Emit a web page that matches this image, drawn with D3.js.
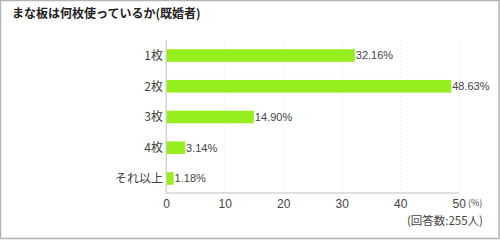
<!DOCTYPE html>
<html lang="ja">
<head>
  <meta charset="UTF-8" />
  <title>まな板は何枚使っているか</title>
  <script src="https://d3js.org/d3.v7.min.js"></script>
  <style>
    body { margin: 0; background: #fff; font-family: "Noto Sans CJK JP", sans-serif; }
    svg text { fill: #333; }
  </style>
</head>
<body>
  <svg id="chart" width="500" height="240"></svg>
  <script>
    const categories = ["1枚", "2枚", "3枚", "4枚", "それ以上"];
    const values = [32.16, 48.63, 14.90, 3.14, 1.18];
    const ticks = [0, 10, 20, 30, 40, 50];

    const svg = d3.select("#chart");

    // frame
    svg.append("rect")
      .attr("x", 0.5).attr("y", 0.5)
      .attr("width", 498.5).attr("height", 238)
      .attr("fill", "#fff").attr("stroke", "#b4b4b4").attr("stroke-width", 1.5);

    svg.append("text")
      .attr("x", 12).attr("y", 18)
      .attr("font-size", 12).attr("font-weight", "bold")
      .style("fill", "#222")
      .text("まな板は何枚使っているか(既婚者)");

    const x = d3.scaleLinear().domain([0, 50]).range([166.7, 459.2]);
    const y = d3.scaleBand().domain(categories).range([40, 194]).paddingInner(0.59).paddingOuter(0.3);

    // dotted grid
    svg.append("g").selectAll("line")
      .data(ticks.slice(1))
      .join("line")
      .attr("x1", d => x(d)).attr("x2", d => x(d))
      .attr("y1", 40).attr("y2", 192)
      .attr("stroke", "#ddd").attr("stroke-dasharray", "1,3");

    // axes lines
    svg.append("line")
      .attr("x1", x(0) - 0.5).attr("x2", x(0) - 0.5)
      .attr("y1", 40).attr("y2", 193)
      .attr("stroke", "#bbb").attr("stroke-width", 1);
    svg.append("line")
      .attr("x1", x(0) - 1).attr("x2", x(50))
      .attr("y1", 193).attr("y2", 193)
      .attr("stroke", "#e0e0e0").attr("stroke-width", 2);

    // bars
    svg.append("g").selectAll("rect")
      .data(values)
      .join("rect")
      .attr("x", x(0))
      .attr("y", (d, i) => y(categories[i]))
      .attr("width", d => x(d) - x(0))
      .attr("height", y.bandwidth())
      .attr("fill", "#96ee1e");

    // value labels
    svg.append("g").selectAll("text")
      .data(values)
      .join("text")
      .attr("x", d => x(d) + 1)
      .attr("y", (d, i) => y(categories[i]) + y.bandwidth() / 2)
      .attr("dy", "0.36em")
      .attr("font-size", 11)
      .attr("font-family", "Liberation Sans, sans-serif")
      .style("fill", "#444")
      .text(d => d.toFixed(2) + "%");

    // category labels
    svg.append("g").selectAll("text")
      .data(categories)
      .join("text")
      .attr("x", 163)
      .attr("y", d => y(d) + y.bandwidth() / 2)
      .attr("dy", "0.36em")
      .attr("text-anchor", "end")
      .attr("font-size", 12)
      .style("fill", "#444")
      .text(d => d);

    // tick labels
    svg.append("g").selectAll("text")
      .data(ticks)
      .join("text")
      .attr("x", d => x(d))
      .attr("y", 208)
      .attr("text-anchor", "middle")
      .attr("font-size", 12)
      .attr("font-family", "Liberation Sans, sans-serif")
      .style("fill", "#444")
      .text(d => d);

    svg.append("text")
      .attr("x", 468).attr("y", 206)
      .attr("font-size", 9)
      .style("fill", "#444")
      .text("(%)");

    svg.append("text")
      .attr("x", 483).attr("y", 225)
      .attr("text-anchor", "end")
      .attr("font-size", 11.5)
      .style("fill", "#444")
      .text("(回答数:255人)");
  </script>
</body>
</html>
